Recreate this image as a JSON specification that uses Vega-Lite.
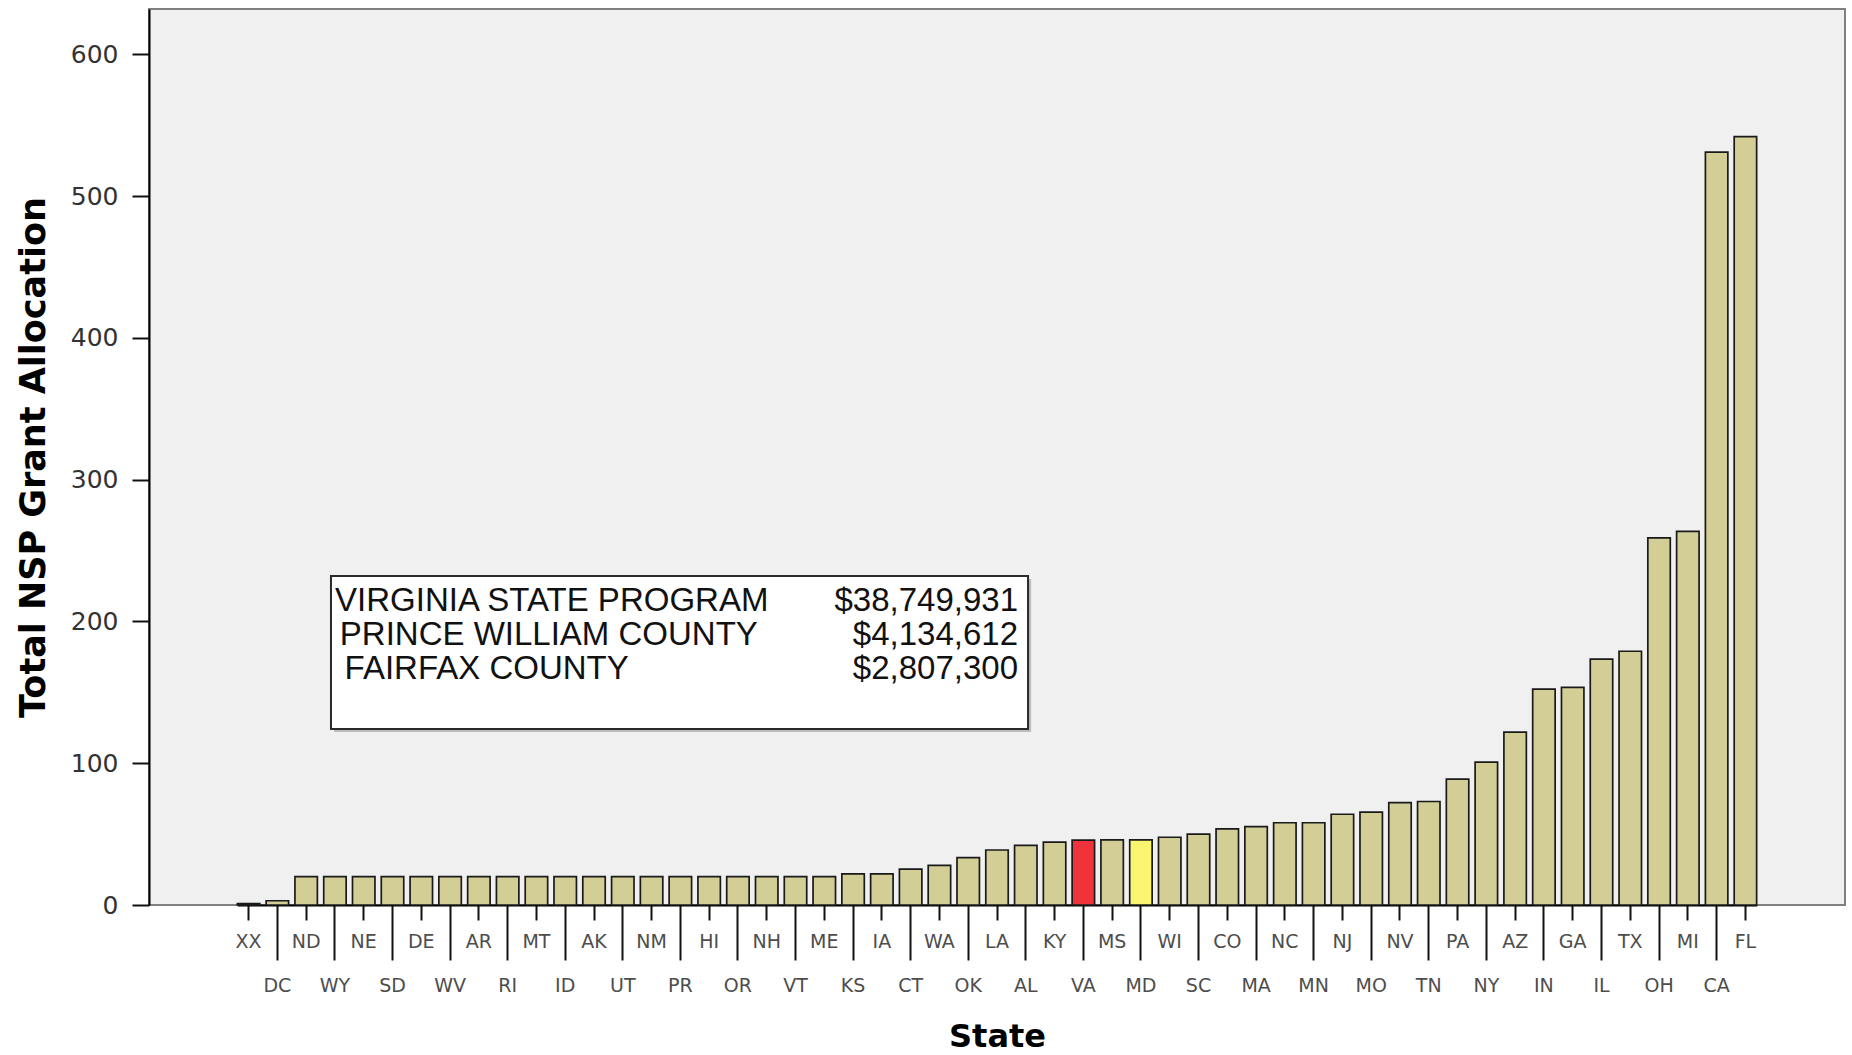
{
  "$schema": "https://vega.github.io/schema/vega-lite/v6.json",
  "width": 1696,
  "height": 896,
  "autosize": {"type": "none"},
  "padding": {"left": 149, "top": 9, "right": 7, "bottom": 150},
  "background": "white",
  "config": {"view": {"fill": "#f0f0f0", "stroke": "#808080", "strokeWidth": 2}},
  "datasets": {
    "grants": [
      {"state": "XX", "allocation": 1},
      {"state": "DC", "allocation": 3},
      {"state": "ND", "allocation": 20},
      {"state": "WY", "allocation": 20},
      {"state": "NE", "allocation": 20},
      {"state": "SD", "allocation": 20},
      {"state": "DE", "allocation": 20},
      {"state": "WV", "allocation": 20},
      {"state": "AR", "allocation": 20},
      {"state": "RI", "allocation": 20},
      {"state": "MT", "allocation": 20},
      {"state": "ID", "allocation": 20},
      {"state": "AK", "allocation": 20},
      {"state": "UT", "allocation": 20},
      {"state": "NM", "allocation": 20},
      {"state": "PR", "allocation": 20},
      {"state": "HI", "allocation": 20},
      {"state": "OR", "allocation": 20},
      {"state": "NH", "allocation": 20},
      {"state": "VT", "allocation": 20},
      {"state": "ME", "allocation": 20},
      {"state": "KS", "allocation": 22},
      {"state": "IA", "allocation": 22},
      {"state": "CT", "allocation": 25.3},
      {"state": "WA", "allocation": 28},
      {"state": "OK", "allocation": 33.4},
      {"state": "LA", "allocation": 38.8},
      {"state": "AL", "allocation": 42},
      {"state": "KY", "allocation": 44.3},
      {"state": "VA", "allocation": 45.7},
      {"state": "MS", "allocation": 46},
      {"state": "MD", "allocation": 46},
      {"state": "WI", "allocation": 47.8},
      {"state": "SC", "allocation": 50},
      {"state": "CO", "allocation": 53.7},
      {"state": "MA", "allocation": 55.3},
      {"state": "NC", "allocation": 58},
      {"state": "MN", "allocation": 58},
      {"state": "NJ", "allocation": 64},
      {"state": "MO", "allocation": 65.5},
      {"state": "NV", "allocation": 72.2},
      {"state": "TN", "allocation": 73},
      {"state": "PA", "allocation": 88.8},
      {"state": "NY", "allocation": 100.8},
      {"state": "AZ", "allocation": 122},
      {"state": "IN", "allocation": 152.3},
      {"state": "GA", "allocation": 153.5},
      {"state": "IL", "allocation": 173.5},
      {"state": "TX", "allocation": 179},
      {"state": "OH", "allocation": 259},
      {"state": "MI", "allocation": 263.5},
      {"state": "CA", "allocation": 531},
      {"state": "FL", "allocation": 542}
    ],
    "note": [
      {"item": "VIRGINIA STATE PROGRAM", "amount": "$38,749,931"},
      {"item": "PRINCE WILLIAM COUNTY", "amount": "$4,134,612"},
      {"item": "FAIRFAX COUNTY", "amount": "$2,807,300"}
    ]
  },
  "layer": [
    {
      "data": {"name": "grants"},
      "mark": {"type": "bar", "stroke": "#1a1a1a", "strokeWidth": 1.7},
      "encoding": {
        "x": {
          "field": "state",
          "type": "nominal",
          "sort": null,
          "scale": {"paddingInner": 0.22, "paddingOuter": 0, "range": [88.36, 1607.64]},
          "axis": {
            "title": "State",
            "titleFont": "DejaVu Sans",
            "titleFontSize": 32,
            "titleFontWeight": "bold",
            "titleColor": "#000000",
            "titlePadding": 26,
            "labelAngle": 0,
            "labelFont": "DejaVu Sans",
            "labelFontSize": 19,
            "labelColor": "#4d4d4d",
            "labelBaseline": "top",
            "labelOverlap": false,
            "labelPadding": {"condition": {"test": "indexof(['DC','WY','SD','WV','RI','ID','UT','PR','OR','VT','KS','CT','OK','AL','VA','MD','SC','MA','MN','MO','TN','NY','IN','IL','OH','CA'], datum.value) >= 0", "value": 16}, "value": 12},
            "tickSize": {"condition": {"test": "indexof(['DC','WY','SD','WV','RI','ID','UT','PR','OR','VT','KS','CT','OK','AL','VA','MD','SC','MA','MN','MO','TN','NY','IN','IL','OH','CA'], datum.value) >= 0", "value": 55}, "value": 15},
            "tickColor": "#111111",
            "tickWidth": 2,
            "domainColor": "#000000",
            "domainWidth": 2
          }
        },
        "y": {
          "field": "allocation",
          "type": "quantitative",
          "scale": {"domain": [0, 632], "nice": false},
          "axis": {
            "title": "Total NSP Grant Allocation",
            "titleFont": "DejaVu Sans",
            "titleFontSize": 35,
            "titleFontWeight": "bold",
            "titleColor": "#000000",
            "titlePadding": 19,
            "values": [0, 100, 200, 300, 400, 500, 600],
            "labelFont": "DejaVu Sans",
            "labelFontSize": 25,
            "labelColor": "#333333",
            "labelPadding": 14,
            "tickSize": 17,
            "tickWidth": 2,
            "tickColor": "#111111",
            "domainColor": "#000000",
            "domainWidth": 2,
            "grid": false
          }
        },
        "fill": {
          "condition": [
            {"test": "datum.state === 'VA'", "value": "#f0323a"},
            {"test": "datum.state === 'MD'", "value": "#faf56e"}
          ],
          "value": "#d3ce96"
        }
      }
    },
    {
      "data": {"values": [{}]},
      "mark": {"type": "rect", "fill": "#9a9a9a", "opacity": 0.6},
      "encoding": {
        "x": {"datum": 0.1091, "type": "quantitative", "scale": {"domain": [0, 1]}, "axis": null},
        "x2": {"datum": 0.5201},
        "y": {"datum": 122, "type": "quantitative"},
        "y2": {"datum": 230}
      }
    },
    {
      "data": {"values": [{}]},
      "mark": {"type": "rect", "fill": "#ffffff", "stroke": "#2a2a2a", "strokeWidth": 2},
      "encoding": {
        "x": {"datum": 0.1073, "type": "quantitative", "scale": {"domain": [0, 1]}, "axis": null},
        "x2": {"datum": 0.5183},
        "y": {"datum": 124.1, "type": "quantitative"},
        "y2": {"datum": 232.1}
      }
    },
    {
      "data": {"name": "note"},
      "mark": {"type": "text", "align": "left", "baseline": "middle", "font": "Liberation Sans", "fontSize": 33, "color": "#111111"},
      "encoding": {
        "x": {"datum": 0.1097, "type": "quantitative", "scale": {"domain": [0, 1]}, "axis": null},
        "xOffset": {"field": "item", "type": "nominal", "sort": null, "scale": {"type": "point", "padding": 0, "range": [0, 9.5]}},
        "y": {"datum": 214.4, "type": "quantitative"},
        "yOffset": {"field": "item", "type": "nominal", "sort": null, "scale": {"type": "point", "padding": 0, "range": [0, 67.5]}},
        "text": {"field": "item"}
      }
    },
    {
      "data": {"name": "note"},
      "mark": {"type": "text", "align": "right", "baseline": "middle", "font": "Liberation Sans", "fontSize": 33, "color": "#111111"},
      "encoding": {
        "x": {"datum": 0.5124, "type": "quantitative", "scale": {"domain": [0, 1]}, "axis": null},
        "y": {"datum": 214.4, "type": "quantitative"},
        "yOffset": {"field": "item", "type": "nominal", "sort": null, "scale": {"type": "point", "padding": 0, "range": [0, 67.5]}},
        "text": {"field": "amount"}
      }
    }
  ],
  "resolve": {"scale": {"x": "independent", "xOffset": "independent", "yOffset": "independent"}}
}
